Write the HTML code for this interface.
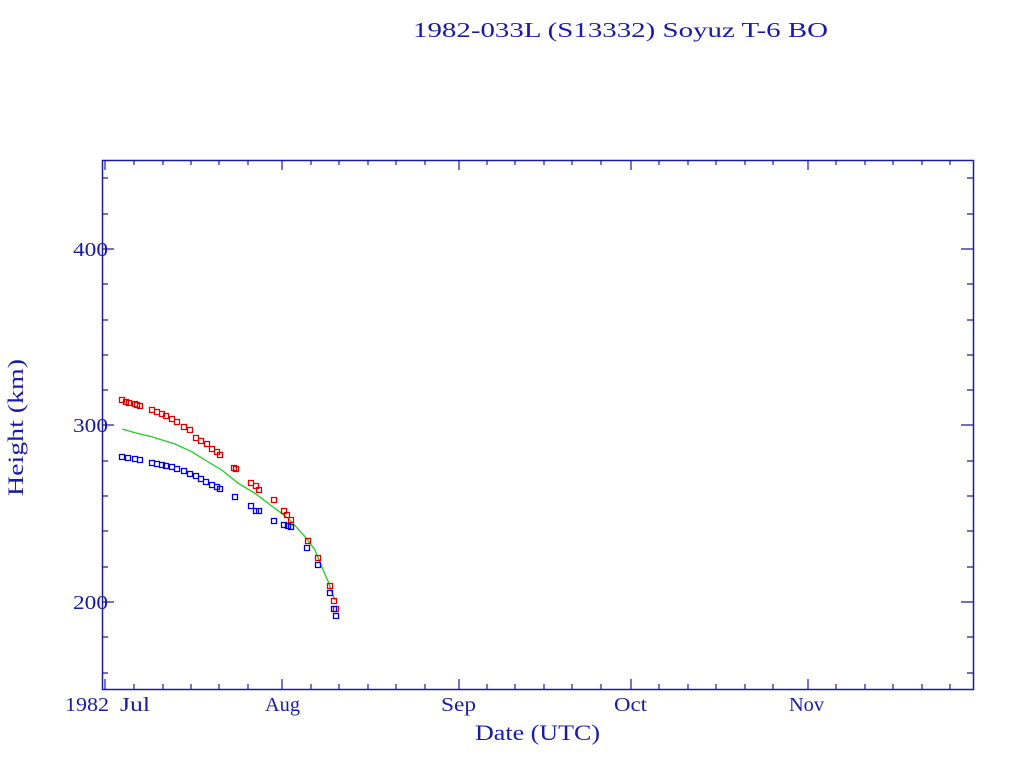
<!DOCTYPE html>
<html><head><meta charset="utf-8"><style>html,body{margin:0;padding:0;background:#fff}svg{display:block}</style></head>
<body>
<svg width="1024" height="768" xmlns="http://www.w3.org/2000/svg" font-family="Liberation Serif, serif" fill="#1a1aa6">
<text x="413" y="37" font-size="21" textLength="415" lengthAdjust="spacingAndGlyphs">1982-033L (S13332) Soyuz T-6 BO</text>
<rect x="102.5" y="160.5" width="871" height="529" fill="none" stroke="#1a1aa6" stroke-width="1.5"/>
<g stroke="#1a1aa6" stroke-width="1.2">
<path d="M102 249h12M102 425h12M102 602h12M973 249h-12M973 425h-12M973 602h-12"/>
<path d="M102 178h6M102 214h6M102 284h6M102 320h6M102 355h6M102 390h6M102 461h6M102 496h6M102 531h6M102 567h6M102 637h6M102 673h6
M973 178h-6M973 214h-6M973 284h-6M973 320h-6M973 355h-6M973 390h-6M973 461h-6M973 496h-6M973 531h-6M973 567h-6M973 637h-6M973 673h-6"/>
<path d="M105 689v-10M282 689v-10M459 689v-10M631 689v-10M808 689v-10M105 160v10M282 160v10M459 160v10M631 160v10M808 160v10"/>
<path d="M134 689v-5M163 689v-5M191 689v-5M219 689v-5M248 689v-5M311 689v-5M339 689v-5M368 689v-5M396 689v-5M425 689v-5M487 689v-5M515 689v-5M544 689v-5M572 689v-5M601 689v-5M659 689v-5M688 689v-5M716 689v-5M745 689v-5M773 689v-5M836 689v-5M865 689v-5M893 689v-5M922 689v-5M950 689v-5
M134 160v5M163 160v5M191 160v5M219 160v5M248 160v5M311 160v5M339 160v5M368 160v5M396 160v5M425 160v5M487 160v5M515 160v5M544 160v5M572 160v5M601 160v5M659 160v5M688 160v5M716 160v5M745 160v5M773 160v5M836 160v5M865 160v5M893 160v5M922 160v5M950 160v5"/>
</g>
<g font-size="20">
<text x="73" y="256" textLength="35" lengthAdjust="spacingAndGlyphs">400</text>
<text x="73" y="432" textLength="35" lengthAdjust="spacingAndGlyphs">300</text>
<text x="73" y="609" textLength="35" lengthAdjust="spacingAndGlyphs">200</text>
<text x="65" y="711" textLength="44" lengthAdjust="spacingAndGlyphs">1982</text>
<text x="120" y="711" textLength="30" lengthAdjust="spacingAndGlyphs">Jul</text>
<text x="265" y="711" textLength="35" lengthAdjust="spacingAndGlyphs">Aug</text>
<text x="441" y="711" textLength="35" lengthAdjust="spacingAndGlyphs">Sep</text>
<text x="614" y="711" textLength="33" lengthAdjust="spacingAndGlyphs">Oct</text>
<text x="789" y="711" textLength="35" lengthAdjust="spacingAndGlyphs">Nov</text>
<text x="475" y="740" font-size="22" textLength="125" lengthAdjust="spacingAndGlyphs">Date (UTC)</text>
<text transform="translate(23,496) rotate(-90)" font-size="22" textLength="137" lengthAdjust="spacingAndGlyphs">Height (km)</text>
</g>
<polyline fill="none" stroke="#22cc22" stroke-width="1.3" points="122.3,429 135,432.7 151.7,436.7 175,444 191.7,451.7 205,460 221.7,470 238.3,483.3 255,493.3 271.7,506 288.3,518.3 305,536.7 315,550 321.7,566.7 328.3,581.7 332.3,593.3 335,600"/>
<path fill="none" stroke="#dd0000" stroke-width="1.3" d="M119.5 397.5h5v5h-5zM123.5 399.5h5v5h-5zM126.5 400.5h5v5h-5zM132.5 401.5h5v5h-5zM134.5 402.5h5v5h-5zM137.5 403.5h5v5h-5zM149.5 407.5h5v5h-5zM154.5 409.5h5v5h-5zM159.5 411.5h5v5h-5zM163.5 413.5h5v5h-5zM169.5 416.5h5v5h-5zM174.5 419.5h5v5h-5zM181.5 424.5h5v5h-5zM187.5 427.5h5v5h-5zM193.5 435.5h5v5h-5zM198.5 438.5h5v5h-5zM204.5 441.5h5v5h-5zM209.5 446.5h5v5h-5zM214.5 449.5h5v5h-5zM217.5 452.5h5v5h-5zM231.5 465.5h5v5h-5zM233.5 466.5h5v5h-5zM248.5 480.5h5v5h-5zM253.5 483.5h5v5h-5zM256.5 487.5h5v5h-5zM271.5 497.5h5v5h-5zM281.5 508.5h5v5h-5zM284.5 512.5h5v5h-5zM288.5 517.5h5v5h-5zM305.5 538.5h5v5h-5zM315.5 555.5h5v5h-5zM327.5 583.5h5v5h-5zM331.5 598.5h5v5h-5zM333.5 606.5h5v5h-5z"/>
<path fill="none" stroke="#0000dd" stroke-width="1.3" d="M119.5 454.5h5v5h-5zM125.5 455.5h5v5h-5zM132.5 456.5h5v5h-5zM137.5 457.5h5v5h-5zM149.5 460.5h5v5h-5zM154.5 461.5h5v5h-5zM159.5 462.5h5v5h-5zM163.5 463.5h5v5h-5zM169.5 464.5h5v5h-5zM174.5 466.5h5v5h-5zM181.5 468.5h5v5h-5zM187.5 471.5h5v5h-5zM193.5 473.5h5v5h-5zM198.5 476.5h5v5h-5zM203.5 479.5h5v5h-5zM209.5 482.5h5v5h-5zM214.5 484.5h5v5h-5zM217.5 486.5h5v5h-5zM232.5 494.5h5v5h-5zM248.5 503.5h5v5h-5zM253.5 508.5h5v5h-5zM256.5 508.5h5v5h-5zM271.5 518.5h5v5h-5zM281.5 522.5h5v5h-5zM285.5 523.5h5v5h-5zM288.5 524.5h5v5h-5zM304.5 545.5h5v5h-5zM315.5 562.5h5v5h-5zM327.5 590.5h5v5h-5zM331.5 606.5h5v5h-5zM333.5 613.5h5v5h-5z"/>
</svg>
</body></html>
